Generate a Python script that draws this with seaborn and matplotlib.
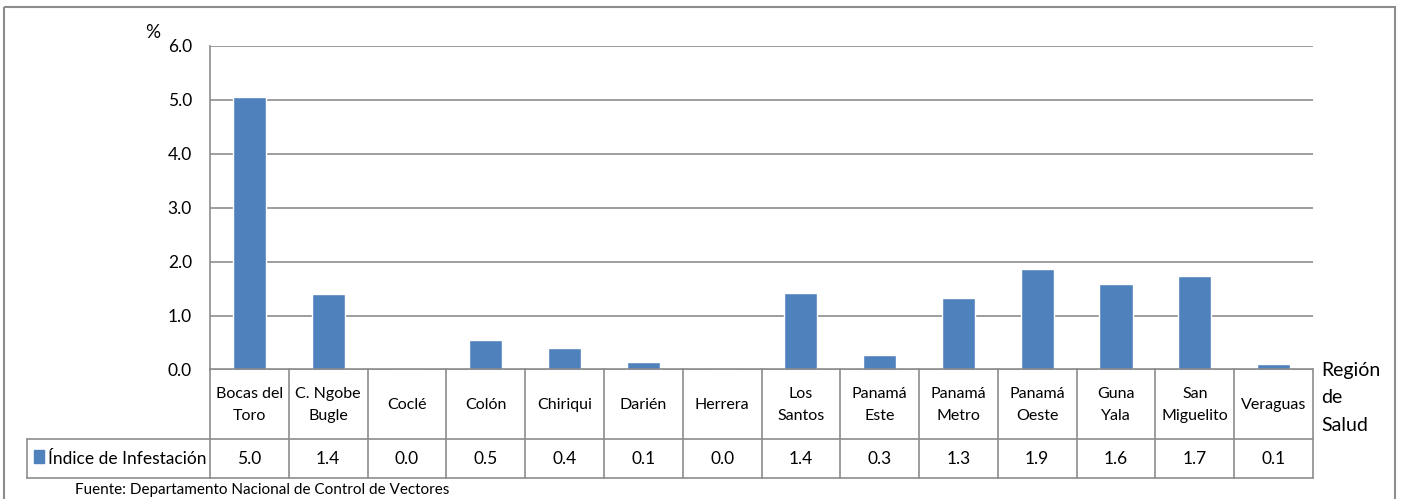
import matplotlib
matplotlib.use("Agg")
import matplotlib.pyplot as plt
import matplotlib.transforms as mtransforms
from matplotlib.patches import Rectangle
from matplotlib.lines import Line2D
import seaborn as sns
import pandas as pd

# datos
regiones = ["Bocas del\nToro", "C. Ngobe\nBugle", "Coclé", "Colón", "Chiriqui", "Darién",
            "Herrera", "Los\nSantos", "Panamá\nEste", "Panamá\nMetro", "Panamá\nOeste",
            "Guna\nYala", "San\nMiguelito", "Veraguas"]
indice = [5.04, 1.39, 0.0, 0.54, 0.39, 0.13, 0.0, 1.42, 0.27, 1.32, 1.87, 1.58, 1.74, 0.11]
serie = "Índice de Infestación"
yticks = [0, 1, 2, 3, 4, 5, 6]

sns.set_theme(style="white")
plt.rcParams['font.family'] = ['Lato', 'DejaVu Sans']

W, H = 1402, 499
bar_color = "#4F81BD"
line_color = "#8c8c8c"
fs = 11.5

fig = plt.figure(figsize=(W / 100, H / 100), dpi=100)
x0, x1, y_top, y0 = 210, 1313, 45.5, 369.5
ax = fig.add_axes([x0 / W, 1 - y0 / H, (x1 - x0) / W, (y0 - y_top) / H])

df = pd.DataFrame({"region": regiones, "indice": indice})
sns.barplot(data=df, x="region", y="indice", color=bar_color, width=0.42,
            saturation=1, ax=ax)

ax.set_xlim(-0.5, len(regiones) - 0.5)
ax.set_ylim(0, 6)
ax.set_yticks(yticks)
ax.set_yticklabels([f"{t:.1f}" for t in yticks], fontsize=12.5, color="black")
ax.set_xticks([])
ax.set_xlabel("")
ax.set_ylabel("")
ax.yaxis.grid(True, color=line_color, lw=1.2)
ax.set_axisbelow(True)
ax.tick_params(axis='y', length=0, pad=13)
for s in ["top", "right", "bottom"]:
    ax.spines[s].set_visible(False)
ax.spines["left"].set_color(line_color)
ax.spines["left"].set_linewidth(1.2)

# transform en pixeles desde arriba
px = mtransforms.Affine2D().scale(1 / W, -1 / H).translate(0, 1) + fig.transFigure
col = mtransforms.blended_transform_factory(ax.transData, px)

# tabla de datos
r0, r1, r2 = y0, 439, 478
n = len(regiones)
for y in [r0, r1, r2]:
    fig.add_artist(Line2D([-0.5, n - 0.5], [y, y], transform=col, color=line_color, lw=1.2))
for y in [r1, r2]:
    fig.add_artist(Line2D([27, x0], [y, y], transform=px, color=line_color, lw=1.2))
for i in range(n + 1):
    fig.add_artist(Line2D([i - 0.5, i - 0.5], [r0, r2], transform=col, color=line_color, lw=1.2))
fig.add_artist(Line2D([27, 27], [r1, r2], transform=px, color=line_color, lw=1.2))

for i, (reg, v) in enumerate(zip(regiones, indice)):
    fig.text(i, (r0 + r1) / 2 + 1, reg, transform=col, ha="center", va="center",
             fontsize=fs, linespacing=1.7, color="black")
    fig.text(i, (r1 + r2) / 2 + 1, f"{v:.1f}", transform=col, ha="center", va="center",
             fontsize=12.5, color="black")

fig.add_artist(Rectangle((34, 450), 10, 13, transform=px, color=bar_color))
fig.text(48, (r1 + r2) / 2 + 1, serie, transform=px, ha="left", va="center",
         fontsize=12.5, color="black")

fig.text(1321, 398, "Región\nde\nSalud", transform=px, ha="left", va="center",
         fontsize=14, linespacing=1.75, color="black")
fig.text(153, 33, "%", transform=px, ha="center", va="center", fontsize=13.5, color="black")
fig.text(75, 483, "Fuente: Departamento Nacional de Control de Vectores", transform=px,
         ha="left", va="top", fontsize=11, color="black")

# borde exterior
fig.add_artist(Rectangle((4, 7), 1391, 520, transform=px, fill=False,
                         edgecolor=line_color, lw=1.5, clip_on=False))

fig.savefig("out.png", dpi=100)
